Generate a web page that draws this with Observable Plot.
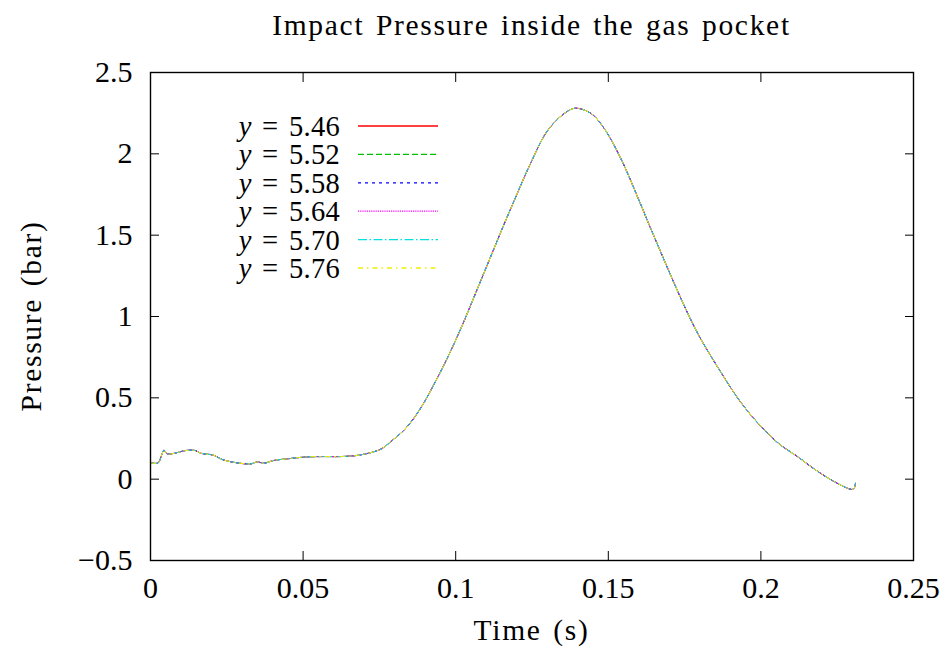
<!DOCTYPE html>
<html>
<head>
<meta charset="utf-8">
<script src="https://cdn.jsdelivr.net/npm/d3@7"></script>
<script src="https://cdn.jsdelivr.net/npm/@observablehq/plot@0.6"></script>
<style>
  html, body { margin: 0; padding: 0; background: #fff; }
  #chart { position: relative; width: 945px; height: 652px; }
</style>
</head>
<body>
<div id="chart"></div>
<script>
// ---- data ----
const titleText = "Impact Pressure inside the gas pocket";
const xLabel = "Time (s)";
const yLabel = "Pressure (bar)";

const seriesNames = ["5.46", "5.52", "5.58", "5.64", "5.70", "5.76"];
const seriesColors = ["#ff0000", "#00c000", "#0000ff", "#ff00ff", "#00e0e0", "#f0f000"];
const seriesDash = [null, "6,3", "3,4", "1.2,1", "9,2.5,1.5,2.5", "5,4,1.5,4"];

const time = [0.000, 0.0025, 0.0035, 0.0044, 0.0055, 0.0080, 0.0115, 0.0147, 0.0164, 0.0207,
  0.0235, 0.0272, 0.0328, 0.0350, 0.0371, 0.0404, 0.0459, 0.0513, 0.0567, 0.0623,
  0.0677, 0.0731, 0.0760, 0.0790, 0.0830, 0.0863, 0.0896, 0.0928, 0.0961, 0.0994,
  0.1027, 0.1059, 0.1092, 0.1125, 0.1158, 0.1190, 0.1245, 0.1300, 0.1354, 0.1390,
  0.1442, 0.1485, 0.1540, 0.1606, 0.1638, 0.1671, 0.1704, 0.1737, 0.1769, 0.1802,
  0.1835, 0.1868, 0.1900, 0.1933, 0.1977, 0.2021, 0.2064, 0.2119, 0.2173, 0.2228,
  0.2283, 0.2299, 0.2306, 0.2310];
const pressure = [0.100, 0.100, 0.140, 0.178, 0.155, 0.160, 0.176, 0.176, 0.160, 0.147,
  0.121, 0.104, 0.094, 0.106, 0.098, 0.115, 0.127, 0.137, 0.139, 0.139,
  0.146, 0.168, 0.190, 0.235, 0.300, 0.375, 0.470, 0.580, 0.700, 0.830,
  0.970, 1.115, 1.265, 1.415, 1.565, 1.705, 1.940, 2.140, 2.245, 2.280,
  2.250, 2.160, 1.975, 1.690, 1.545, 1.400, 1.255, 1.115, 0.985, 0.865,
  0.760, 0.660, 0.565, 0.475, 0.372, 0.285, 0.210, 0.140, 0.065, -0.002,
  -0.055, -0.063, -0.055, -0.025];

const xTicks = [0, 0.05, 0.1, 0.15, 0.2, 0.25];
const yTicks = [-0.5, 0, 0.5, 1, 1.5, 2, 2.5];

// ---- build ----
const rows = time.map((t, i) => ({t, p: pressure[i]}));
const fmt = d => d < 0 ? "\u2212" + Math.abs(d) : String(d);
const TICK_FS = 30;
const LABEL_FS = 29.5;
const font = {fontFamily: "Liberation Serif", fontSize: TICK_FS};

const plot = Plot.plot({
  width: 945,
  height: 652,
  marginTop: 72,
  marginBottom: 92,
  marginLeft: 150,
  marginRight: 32,
  style: {fontFamily: "Liberation Serif", fontSize: TICK_FS + "px", color: "#000", background: "#fff"},
  x: {domain: [0, 0.25]},
  y: {domain: [-0.5, 2.5]},
  marks: [
    ...seriesNames.map((s, i) => Plot.line(rows, {
      x: "t", y: "p", stroke: seriesColors[i], strokeWidth: 1,
      strokeDasharray: seriesDash[i] || undefined, curve: "catmull-rom"
    })),
    Plot.frame({stroke: "#000", strokeWidth: 1.4}),
    Plot.axisX(xTicks, {anchor: "bottom", tickSize: -9, tickPadding: 25, tickFormat: fmt, label: null, ...font, strokeWidth: 1}),
    Plot.axisX(xTicks, {anchor: "top", tickSize: -9, tickFormat: () => "", label: null, strokeWidth: 1}),
    Plot.axisY(yTicks, {anchor: "left", tickSize: -9, tickPadding: 27, tickFormat: fmt, label: null, ...font, strokeWidth: 1}),
    Plot.axisY(yTicks, {anchor: "right", tickSize: -9, tickFormat: () => "", label: null, strokeWidth: 1})
  ]
});
document.getElementById("chart").appendChild(plot);

// ---- titles and legend ----
const svg = d3.select(plot);
const cx = (150 + 913) / 2;
const txt = (sel, fs) => sel.attr("font-family", "Liberation Serif").attr("font-size", fs)
  .attr("fill", "#000").attr("letter-spacing", 1.7).attr("word-spacing", 2.5);
txt(svg.append("text"), LABEL_FS).attr("x", cx).attr("y", 35).attr("text-anchor", "middle").text(titleText);
txt(svg.append("text"), LABEL_FS).attr("x", cx).attr("y", 640).attr("text-anchor", "middle").text(xLabel);
txt(svg.append("text"), LABEL_FS).attr("transform", "translate(41,316) rotate(-90)").attr("text-anchor", "middle").text(yLabel);

const lg = svg.append("g");
seriesNames.forEach((s, i) => {
  const yc = 126 + i * 28.4;
  const t = txt(lg.append("text"), 28.5).attr("x", 340).attr("y", yc + 10).attr("text-anchor", "end")
    .attr("letter-spacing", 0.3).attr("word-spacing", 3);
  t.append("tspan").attr("font-style", "italic").text("y");
  t.append("tspan").text(" = " + s);
  lg.append("line").attr("x1", 358).attr("x2", 438).attr("y1", yc).attr("y2", yc)
    .attr("stroke", seriesColors[i]).attr("stroke-width", 1.3)
    .attr("stroke-dasharray", seriesDash[i]);
});
</script>
</body>
</html>
